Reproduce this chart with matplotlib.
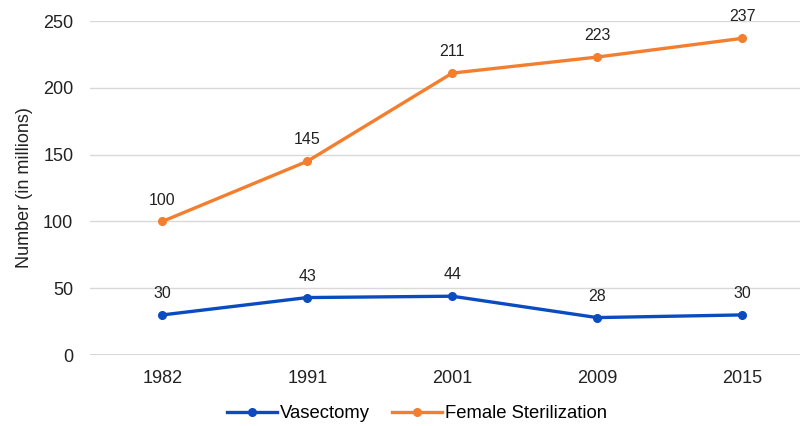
import matplotlib.pyplot as plt

plt.rcParams['font.family'] = ['Liberation Sans', 'DejaVu Sans']

years = ['1982', '1991', '2001', '2009', '2015']
vasectomy = [30, 43, 44, 28, 30]
female_sterilization = [100, 145, 211, 223, 237]

fig = plt.figure(figsize=(8.02, 4.26), dpi=100)
ax = fig.add_axes([90 / 802, 71 / 426, 710 / 802, 334 / 426])

x = list(range(len(years)))
ax.plot(x, vasectomy, color='#0A4CC0', lw=2.4, marker='o', ms=5.5, label='Vasectomy')
ax.plot(x, female_sterilization, color='#F37E2E', lw=2.4, marker='o', ms=5.5,
        label='Female Sterilization')

for xi, v in zip(x, vasectomy):
    ax.annotate(str(v), (xi, v), xytext=(0, 10), textcoords='offset points',
                ha='center', va='bottom', fontsize=11.5, color='#222222')
for xi, v in zip(x, female_sterilization):
    ax.annotate(str(v), (xi, v), xytext=(0, 10), textcoords='offset points',
                ha='center', va='bottom', fontsize=11.5, color='#222222')

ax.set_xlim(-0.5, 4.4)
ax.set_ylim(0, 250)
ax.set_yticks(range(0, 251, 50))
ax.set_xticks(x)
ax.set_xticklabels(years)
ax.yaxis.grid(True, color='#D9D9D9', lw=1)
ax.set_axisbelow(True)
for s in ax.spines.values():
    s.set_visible(False)
ax.axhline(0, color='#D0D0D0', lw=1.2, zorder=0)
ax.tick_params(axis='both', length=0, labelsize=13, colors='#222222')
ax.tick_params(axis='x', pad=11)
ax.tick_params(axis='y', pad=12)
ax.set_ylabel('Number (in millions)', fontsize=13, color='#222222', labelpad=7)

fig.legend(loc='lower center', bbox_to_anchor=(0.52, -0.03), ncol=2, frameon=False,
           fontsize=13.3, handlelength=2.7, columnspacing=1.2, handletextpad=0.15)

fig.savefig('out.png', dpi=100)
